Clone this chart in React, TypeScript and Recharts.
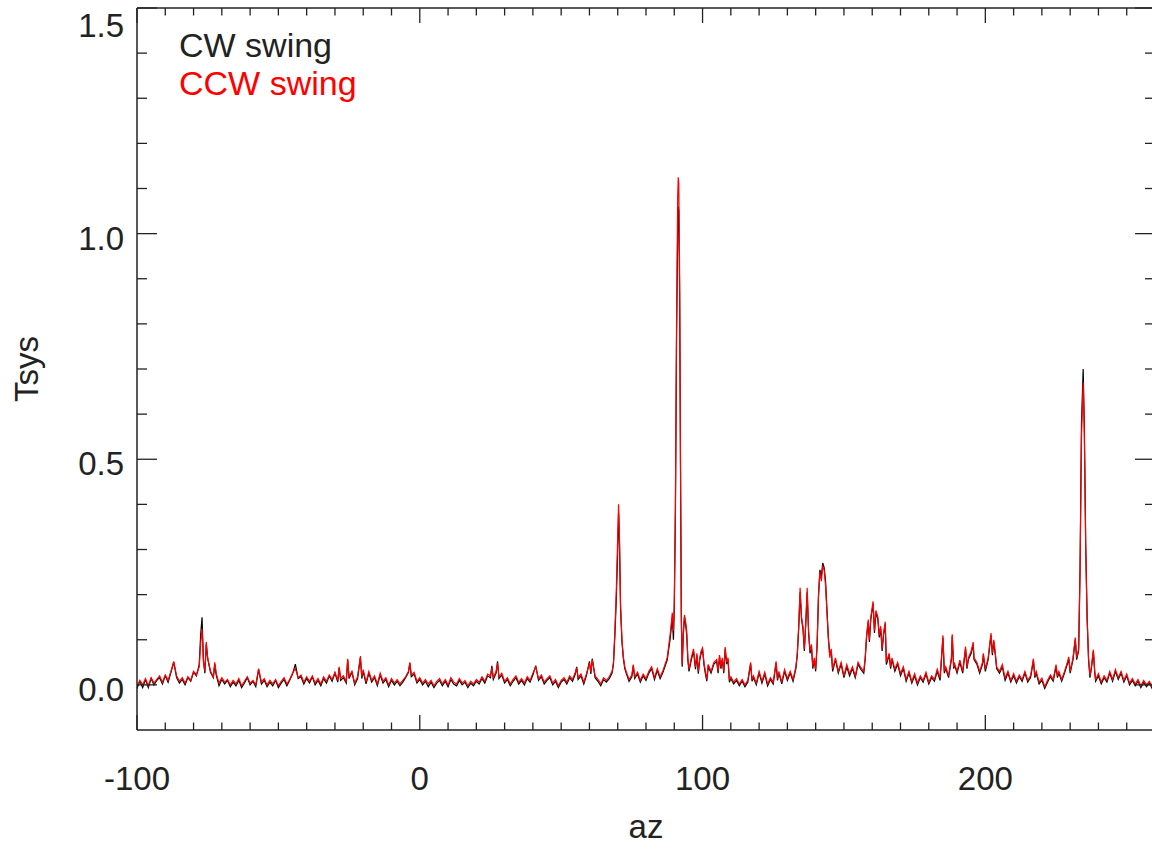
import React from 'react';
import { LineChart, Line, XAxis, YAxis, Legend, Label } from 'recharts';

// ---- data ----
const az = [
  -100, -99, -98, -97, -96, -95, -94, -93, -92, -91,
  -90, -89, -88, -87, -86, -85, -84, -83, -82, -81,
  -80, -79, -78, -77.5, -77, -76.5, -76, -75.5, -75, -74,
  -73, -72.5, -72, -71, -70, -69, -68, -67, -66, -65,
  -64, -63, -62, -61, -60, -59, -58, -57, -56, -55,
  -54, -53, -52, -51, -50, -49, -48, -47, -46, -45,
  -44, -43, -42, -41, -40, -39, -38, -37, -36, -35,
  -34, -33, -32, -31, -30, -29, -28.5, -28, -27, -26,
  -25.5, -25, -24, -23, -22, -21, -20.5, -20, -19, -18,
  -17, -16, -15, -14, -13, -12, -11, -10, -9, -8,
  -7, -6, -5, -4, -3.5, -3, -2, -1, 0, 1,
  2, 3, 4, 5, 6, 7, 8, 9, 10, 11,
  12, 13, 14, 15, 16, 17, 18, 19, 20, 21,
  22, 23, 24, 25, 25.5, 26, 27, 27.5, 28, 29,
  30, 31, 32, 33, 34, 35, 36, 37, 38, 39,
  40, 41, 42, 43, 44, 45, 46, 47, 48, 49,
  50, 51, 52, 53, 54, 55, 55.5, 56, 57, 58,
  59, 60, 60.5, 61, 62, 63, 64, 65, 66, 67,
  68, 68.5, 69, 69.5, 70, 70.3, 70.6, 71, 71.5, 72,
  72.5, 73, 74, 75, 75.5, 76, 77, 78, 79, 80,
  81, 82, 83, 84, 85, 86, 87, 87.5, 88, 88.5,
  89, 89.3, 89.7, 90, 90.4, 90.8, 91.2, 91.4, 91.6, 91.9,
  92.2, 92.5, 92.8, 93.2, 93.6, 94, 94.4, 94.8, 95.2, 96,
  96.8, 97.5, 98, 98.5, 99, 99.5, 100, 100.5, 101, 101.5,
  102, 103, 104, 105, 105.5, 106, 106.5, 107, 107.5, 108,
  108.5, 109, 109.5, 110, 111, 112, 113, 114, 115, 116,
  117, 117.5, 118, 119, 120, 121, 122, 123, 124, 125,
  126, 126.5, 127, 128, 129, 130, 131, 132, 133, 133.5,
  134, 134.5, 135, 135.5, 136, 136.5, 137, 137.5, 138, 138.5,
  139, 139.5, 140, 140.5, 141, 141.5, 142, 142.5, 143, 143.5,
  144, 144.5, 145, 145.5, 146, 147, 148, 149, 150, 151,
  152, 153, 154, 155, 156, 157, 157.5, 158, 158.6, 159,
  159.5, 160.3, 160.8, 161.3, 162, 162.5, 163, 163.5, 164, 164.6,
  165, 166, 166.5, 167, 168, 169, 170, 171, 172, 173,
  174, 175, 176, 177, 178, 179, 180, 181, 182, 183,
  184, 185, 185.5, 186, 187, 188, 188.3, 188.8, 189, 190,
  191, 192, 193, 193.5, 194, 195, 195.7, 196, 197, 198,
  199, 199.3, 200, 201, 202, 202.5, 203, 203.5, 204, 205,
  206, 207, 208, 209, 210, 211, 212, 213, 214, 215,
  216, 217, 217.5, 218, 219, 220, 221, 222, 223, 224,
  225, 225.5, 226, 227, 228, 229, 229.5, 230, 231, 231.8,
  232.3, 233, 233.5, 234, 234.6, 235, 235.5, 236, 236.5, 237,
  237.5, 238.2, 238.7, 239, 240, 241, 242, 243, 244, 245,
  246, 247, 248, 249, 250, 251, 252, 253, 254, 255,
  256, 257, 258, 259, 260,
];

const ccw = [
  -0.004, 0.010, 0.000, 0.014, -0.002, 0.016, 0.004, 0.012, 0.020, 0.006,
  0.022, 0.010, 0.030, 0.052, 0.020, 0.008, 0.016, 0.004, 0.018, 0.010,
  0.030, 0.022, 0.040, 0.090, 0.125, 0.050, 0.030, 0.095, 0.060, 0.030,
  0.018, 0.050, 0.026, 0.004, 0.016, 0.006, 0.012, 0.000, 0.010, 0.002,
  0.014, -0.002, 0.008, 0.018, 0.004, 0.010, 0.000, 0.036, 0.006, 0.014,
  0.000, 0.010, 0.002, 0.012, -0.002, 0.008, 0.016, 0.002, 0.012, 0.026,
  0.036, 0.016, 0.022, 0.006, 0.018, 0.008, 0.020, 0.004, 0.014, 0.002,
  0.018, 0.008, 0.022, 0.012, 0.028, 0.010, 0.040, 0.014, 0.020, 0.008,
  0.058, 0.018, 0.030, 0.004, 0.018, 0.064, 0.018, 0.034, 0.006, 0.030,
  0.010, 0.020, 0.002, 0.026, 0.008, 0.016, 0.000, 0.014, 0.004, 0.012,
  0.002, 0.010, 0.018, 0.030, 0.050, 0.022, 0.028, 0.008, 0.016, 0.004,
  0.012, 0.002, 0.010, -0.002, 0.008, 0.014, 0.002, 0.012, 0.000, 0.016,
  0.006, 0.002, 0.014, 0.004, 0.010, -0.002, 0.008, 0.002, 0.012, 0.006,
  0.018, 0.008, 0.024, 0.020, 0.038, 0.016, 0.030, 0.048, 0.018, 0.026,
  0.008, 0.016, 0.002, 0.012, 0.020, 0.006, 0.014, 0.004, 0.018, 0.010,
  0.026, 0.040, 0.014, 0.022, 0.006, 0.014, 0.020, 0.004, 0.012, -0.002,
  0.010, 0.016, 0.006, 0.020, 0.012, 0.028, 0.038, 0.016, 0.024, 0.006,
  0.026, 0.048, 0.028, 0.056, 0.020, 0.012, 0.002, 0.016, 0.010, 0.018,
  0.030, 0.050, 0.120, 0.210, 0.330, 0.400, 0.340, 0.180, 0.100, 0.062,
  0.040, 0.030, 0.012, 0.022, 0.045, 0.018, 0.028, 0.010, 0.024, 0.014,
  0.030, 0.040, 0.016, 0.036, 0.018, 0.032, 0.050, 0.060, 0.085, 0.110,
  0.140, 0.160, 0.120, 0.180, 0.400, 0.800, 1.080, 1.125, 1.110, 0.900,
  0.500, 0.150, 0.045, 0.120, 0.155, 0.140, 0.120, 0.060, 0.035, 0.060,
  0.080, 0.040, 0.070, 0.030, 0.060, 0.075, 0.082, 0.050, 0.030, 0.012,
  0.045, 0.030, 0.050, 0.056, 0.030, 0.066, 0.040, 0.060, 0.030, 0.084,
  0.050, 0.060, 0.010, 0.018, 0.006, 0.014, 0.002, 0.012, 0.000, 0.010,
  0.050, 0.012, 0.020, 0.004, 0.030, 0.008, 0.028, 0.002, 0.016, 0.006,
  0.052, 0.014, 0.030, 0.006, 0.034, 0.014, 0.030, 0.012, 0.040, 0.070,
  0.130, 0.215, 0.150, 0.130, 0.080, 0.140, 0.215, 0.120, 0.075, 0.090,
  0.040, 0.060, 0.035, 0.090, 0.200, 0.250, 0.230, 0.262, 0.255, 0.220,
  0.160, 0.100, 0.060, 0.080, 0.035, 0.060, 0.030, 0.050, 0.020, 0.045,
  0.025, 0.040, 0.020, 0.050, 0.038, 0.030, 0.060, 0.110, 0.145, 0.100,
  0.150, 0.185, 0.120, 0.165, 0.150, 0.110, 0.130, 0.080, 0.115, 0.140,
  0.050, 0.070, 0.040, 0.060, 0.035, 0.050, 0.025, 0.040, 0.012, 0.030,
  0.008, 0.025, 0.004, 0.020, 0.010, 0.028, 0.006, 0.020, 0.012, 0.035,
  0.015, 0.110, 0.030, 0.040, 0.020, 0.060, 0.112, 0.040, 0.050, 0.030,
  0.055, 0.030, 0.085, 0.040, 0.060, 0.075, 0.095, 0.060, 0.050, 0.030,
  0.050, 0.070, 0.035, 0.060, 0.115, 0.070, 0.100, 0.072, 0.040, 0.030,
  0.045, 0.015, 0.030, 0.010, 0.025, 0.008, 0.022, 0.012, 0.030, 0.010,
  0.020, 0.058, 0.020, 0.030, 0.006, 0.015, -0.004, 0.010, 0.022, 0.012,
  0.045, 0.020, 0.030, 0.012, 0.030, 0.050, 0.062, 0.030, 0.060, 0.105,
  0.060, 0.080, 0.250, 0.550, 0.670, 0.560, 0.300, 0.145, 0.060, 0.020,
  0.040, 0.078, 0.030, 0.012, 0.025, 0.006, 0.020, 0.010, 0.030, 0.012,
  0.034, 0.016, 0.030, 0.010, 0.024, 0.004, 0.014, 0.002, 0.012, -0.002,
  0.010, 0.000, 0.008, -0.004, 0.006,
];

const cw = [
  -0.008, 0.008, -0.006, 0.012, -0.006, 0.014, 0.000, 0.010, 0.016, 0.002,
  0.020, 0.006, 0.028, 0.050, 0.016, 0.004, 0.012, 0.000, 0.016, 0.008,
  0.028, 0.020, 0.045, 0.110, 0.150, 0.055, 0.026, 0.090, 0.058, 0.028,
  0.016, 0.046, 0.022, -0.002, 0.012, 0.002, 0.010, -0.004, 0.006, -0.002,
  0.010, -0.006, 0.004, 0.016, 0.000, 0.008, -0.004, 0.034, 0.002, 0.010,
  -0.004, 0.006, -0.002, 0.010, -0.006, 0.004, 0.012, -0.002, 0.010, 0.024,
  0.046, 0.014, 0.018, 0.002, 0.014, 0.004, 0.018, 0.000, 0.010, -0.002,
  0.014, 0.004, 0.020, 0.008, 0.026, 0.006, 0.038, 0.010, 0.016, 0.004,
  0.055, 0.014, 0.028, 0.000, 0.014, 0.060, 0.014, 0.030, 0.002, 0.026,
  0.006, 0.016, -0.002, 0.022, 0.004, 0.012, -0.004, 0.010, 0.000, 0.008,
  -0.002, 0.006, 0.016, 0.028, 0.048, 0.018, 0.024, 0.004, 0.012, 0.000,
  0.008, -0.004, 0.006, -0.006, 0.004, 0.010, -0.002, 0.008, -0.004, 0.012,
  0.002, -0.002, 0.010, 0.000, 0.006, -0.006, 0.004, -0.002, 0.008, 0.002,
  0.014, 0.004, 0.020, 0.016, 0.042, 0.012, 0.026, 0.052, 0.014, 0.022,
  0.004, 0.012, -0.002, 0.008, 0.016, 0.002, 0.010, 0.000, 0.014, 0.006,
  0.022, 0.042, 0.010, 0.018, 0.002, 0.010, 0.016, 0.000, 0.008, -0.006,
  0.006, 0.012, 0.002, 0.016, 0.008, 0.024, 0.040, 0.012, 0.020, 0.002,
  0.022, 0.052, 0.024, 0.058, 0.016, 0.008, -0.002, 0.012, 0.006, 0.014,
  0.026, 0.046, 0.110, 0.190, 0.300, 0.380, 0.320, 0.170, 0.095, 0.058,
  0.036, 0.026, 0.008, 0.018, 0.042, 0.014, 0.024, 0.006, 0.020, 0.010,
  0.026, 0.036, 0.012, 0.032, 0.014, 0.028, 0.046, 0.055, 0.078, 0.100,
  0.130, 0.150, 0.100, 0.170, 0.380, 0.760, 1.000, 1.060, 1.050, 0.860,
  0.480, 0.140, 0.040, 0.110, 0.150, 0.135, 0.110, 0.055, 0.030, 0.055,
  0.075, 0.035, 0.065, 0.025, 0.055, 0.070, 0.078, 0.045, 0.025, 0.008,
  0.040, 0.026, 0.046, 0.052, 0.026, 0.062, 0.036, 0.056, 0.026, 0.080,
  0.046, 0.056, 0.006, 0.014, 0.002, 0.010, -0.002, 0.008, -0.004, 0.006,
  0.046, 0.008, 0.016, 0.000, 0.026, 0.004, 0.024, -0.002, 0.012, 0.002,
  0.048, 0.010, 0.026, 0.002, 0.030, 0.010, 0.026, 0.008, 0.036, 0.066,
  0.125, 0.205, 0.145, 0.125, 0.075, 0.135, 0.205, 0.115, 0.070, 0.085,
  0.036, 0.056, 0.030, 0.085, 0.195, 0.255, 0.240, 0.270, 0.260, 0.230,
  0.165, 0.105, 0.065, 0.076, 0.030, 0.056, 0.026, 0.046, 0.016, 0.040,
  0.020, 0.036, 0.016, 0.046, 0.034, 0.026, 0.055, 0.105, 0.140, 0.095,
  0.145, 0.180, 0.115, 0.160, 0.145, 0.105, 0.125, 0.075, 0.110, 0.135,
  0.045, 0.066, 0.036, 0.056, 0.030, 0.046, 0.020, 0.036, 0.008, 0.026,
  0.004, 0.020, 0.000, 0.016, 0.006, 0.024, 0.002, 0.016, 0.008, 0.030,
  0.010, 0.105, 0.026, 0.036, 0.016, 0.056, 0.108, 0.036, 0.046, 0.026,
  0.050, 0.026, 0.080, 0.036, 0.056, 0.070, 0.090, 0.056, 0.046, 0.026,
  0.046, 0.066, 0.030, 0.056, 0.110, 0.066, 0.095, 0.068, 0.036, 0.026,
  0.040, 0.010, 0.026, 0.006, 0.020, 0.004, 0.018, 0.008, 0.026, 0.006,
  0.016, 0.054, 0.016, 0.026, 0.002, 0.010, -0.008, 0.006, 0.018, 0.008,
  0.040, 0.016, 0.026, 0.008, 0.026, 0.046, 0.058, 0.026, 0.056, 0.100,
  0.056, 0.076, 0.260, 0.580, 0.700, 0.580, 0.310, 0.150, 0.056, 0.016,
  0.036, 0.074, 0.026, 0.008, 0.020, 0.002, 0.016, 0.006, 0.026, 0.008,
  0.030, 0.012, 0.026, 0.006, 0.020, 0.000, 0.010, -0.002, 0.008, -0.006,
  0.006, -0.004, 0.004, -0.008, 0.002,
];

const seriesNames = ['CW swing', 'CCW swing'];
const seriesColors = ['#000000', '#ff0000'];

const xTicks = [
  -100, -90, -80, -70, -60, -50, -40, -30, -20, -10, 0, 10, 20, 30, 40, 50, 60, 70, 80, 90,
  100, 110, 120, 130, 140, 150, 160, 170, 180, 190, 200, 210, 220, 230, 240, 250, 260,
];
const xMajorTicks = [-100, 0, 100, 200];
const yTicks = [0, 0.1, 0.2, 0.3, 0.4, 0.5, 0.6, 0.7, 0.8, 0.9, 1.0, 1.1, 1.2, 1.3, 1.4, 1.5];
const yMajorTicks = [0, 0.5, 1.0, 1.5];

const xDomain = [-100, 260];
const yDomain = [-0.1, 1.5];

const data = az.map((a, i) => ({ az: a, cw: cw[i], ccw: ccw[i] }));

const FONT = "'Liberation Sans', Arial, Helvetica, sans-serif";
const FS = 33;
const AX = '#222222';
const TXT = '#222222';

const isMajorY = (v: number) => yMajorTicks.some((m) => Math.abs(m - v) < 1e-6);

const BottomTick = (props: any) => {
  const { x, y, payload } = props;
  const v = payload.value;
  const major = xMajorTicks.includes(v);
  return (
    <g>
      <line x1={x} x2={x} y1={y} y2={y - (major ? 15 : 7.5)} stroke={AX} strokeWidth={1.3} />
      {major ? (
        <text x={x} y={y + 60} textAnchor="middle" fontSize={FS} fontFamily={FONT} fill={TXT}>
          {String(v)}
        </text>
      ) : null}
    </g>
  );
};

const TopTick = (props: any) => {
  const { x, y, payload } = props;
  const major = xMajorTicks.includes(payload.value);
  return <line x1={x} x2={x} y1={y} y2={y + (major ? 15 : 7.5)} stroke={AX} strokeWidth={1.3} />;
};

const LeftTick = (props: any) => {
  const { x, y, payload } = props;
  const v = payload.value;
  const major = isMajorY(v);
  const ty = Math.max(y + 16, 37);
  return (
    <g>
      <line x1={x} x2={x + (major ? 20 : 10)} y1={y} y2={y} stroke={AX} strokeWidth={1.3} />
      {major ? (
        <text x={x - 13} y={ty} textAnchor="end" fontSize={FS} fontFamily={FONT} fill={TXT}>
          {v.toFixed(1)}
        </text>
      ) : null}
    </g>
  );
};

const RightTick = (props: any) => {
  const { x, y, payload } = props;
  const major = isMajorY(payload.value);
  return <line x1={x} x2={x - (major ? 20 : 10)} y1={y} y2={y} stroke={AX} strokeWidth={1.3} />;
};

const XTitle = (props: any) => {
  const vb = props.viewBox || { x: 137, y: 730, width: 1018, height: 120 };
  return (
    <text x={vb.x + vb.width / 2} y={vb.y + 108} textAnchor="middle" fontSize={FS} fontFamily={FONT} fill={TXT}>
      az
    </text>
  );
};

const YTitle = (props: any) => {
  const vb = props.viewBox || { x: 0, y: 8, width: 137, height: 722 };
  const cx = 38;
  const cy = vb.y + vb.height / 2;
  return (
    <text
      x={cx}
      y={cy}
      transform={`rotate(-90, ${cx}, ${cy})`}
      textAnchor="middle"
      fontSize={FS}
      fontFamily={FONT}
      fill={TXT}
    >
      Tsys
    </text>
  );
};

const LegendContent = () => (
  <div style={{ fontFamily: FONT, fontSize: 34, lineHeight: '38px', whiteSpace: 'nowrap' }}>
    <div style={{ color: '#222222' }}>{seriesNames[0]}</div>
    <div style={{ color: seriesColors[1] }}>{seriesNames[1]}</div>
  </div>
);

export default function App() {
  return (
    <div style={{ position: 'absolute', left: 0, top: 0, width: 1152, height: 850, overflow: 'hidden', background: '#fff' }}>
      <LineChart width={1160} height={850} data={data} margin={{ top: 0, right: 0, bottom: 0, left: 0 }}>
        <XAxis
          xAxisId={0}
          dataKey="az"
          type="number"
          domain={xDomain}
          allowDataOverflow
          ticks={xTicks}
          interval={0}
          height={120}
          tickSize={0}
          tickMargin={0}
          tickLine={false}
          axisLine={{ stroke: AX, strokeWidth: 1.5 }}
          tick={<BottomTick />}
        >
          <Label content={<XTitle />} />
        </XAxis>
        <XAxis
          xAxisId="top"
          orientation="top"
          dataKey="az"
          type="number"
          domain={xDomain}
          allowDataOverflow
          ticks={xTicks}
          interval={0}
          height={8}
          tickSize={0}
          tickMargin={0}
          tickLine={false}
          axisLine={{ stroke: AX, strokeWidth: 1.5 }}
          tick={<TopTick />}
        />
        <YAxis
          yAxisId={0}
          type="number"
          domain={yDomain}
          allowDataOverflow
          ticks={yTicks}
          interval={0}
          width={137}
          tickSize={0}
          tickMargin={0}
          tickLine={false}
          axisLine={{ stroke: AX, strokeWidth: 1.5 }}
          tick={<LeftTick />}
        >
          <Label content={<YTitle />} />
        </YAxis>
        <YAxis
          yAxisId="right"
          orientation="right"
          type="number"
          domain={yDomain}
          allowDataOverflow
          ticks={yTicks}
          interval={0}
          width={5}
          tickSize={0}
          tickMargin={0}
          tickLine={false}
          axisLine={{ stroke: AX, strokeWidth: 1.5 }}
          tick={<RightTick />}
        />
        <Legend
          layout="vertical"
          align="center"
          verticalAlign="middle"
          content={<LegendContent />}
          wrapperStyle={{ left: 179, top: 26, width: 320, height: 80 }}
        />
        <Line
          xAxisId={0}
          yAxisId={0}
          type="linear"
          dataKey="cw"
          name={seriesNames[0]}
          stroke={seriesColors[0]}
          strokeWidth={1.2}
          dot={false}
          isAnimationActive={false}
        />
        <Line
          xAxisId="top"
          yAxisId="right"
          type="linear"
          dataKey="ccw"
          name={seriesNames[1]}
          stroke={seriesColors[1]}
          strokeWidth={1.2}
          dot={false}
          isAnimationActive={false}
        />
      </LineChart>
    </div>
  );
}
